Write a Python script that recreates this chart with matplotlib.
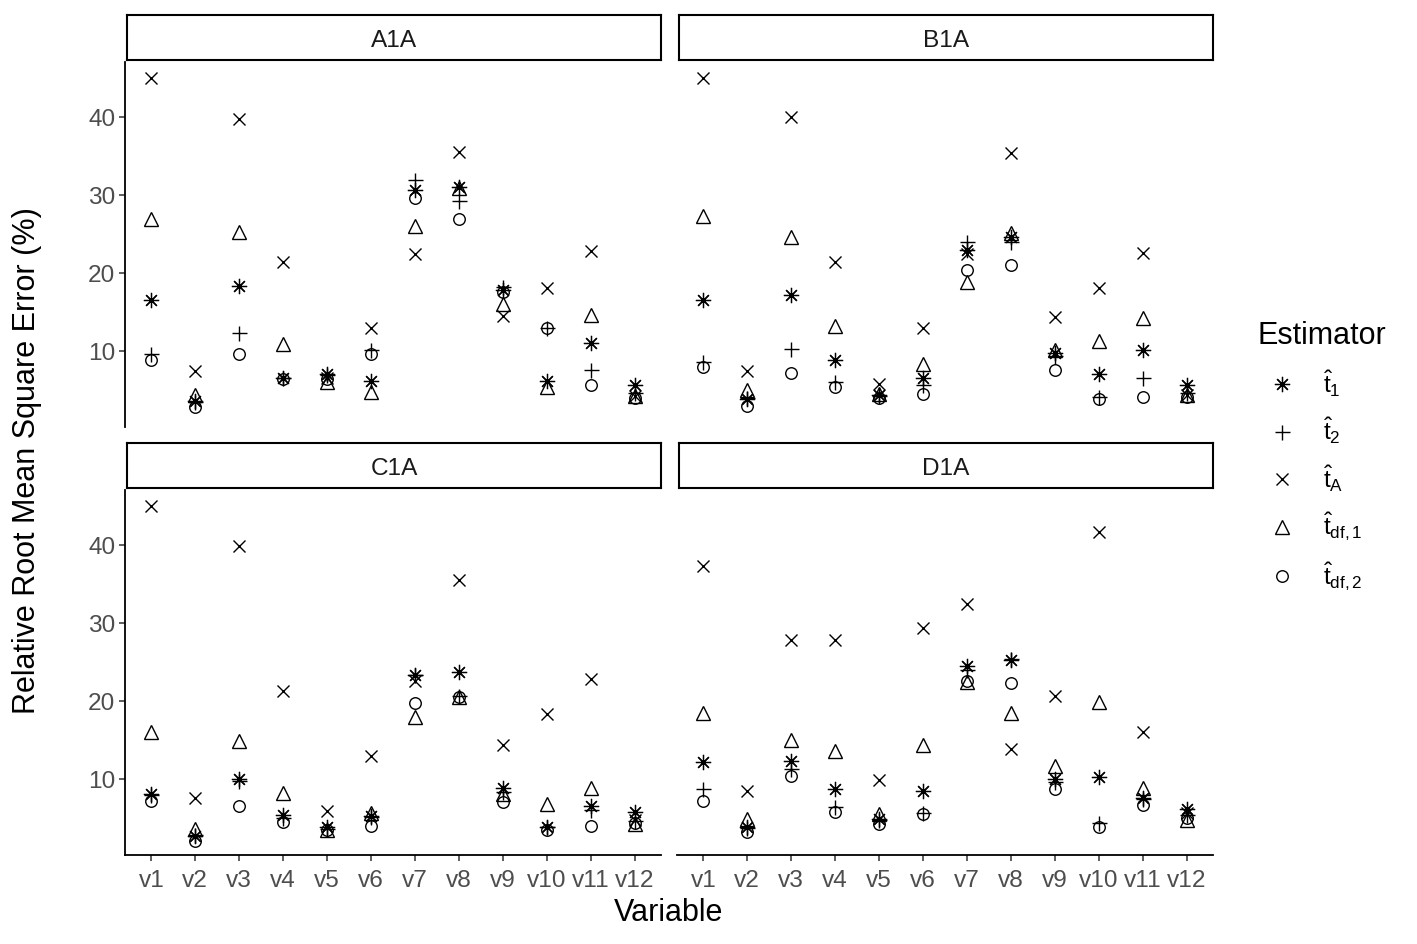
import numpy as np
import matplotlib
matplotlib.use("Agg")
import matplotlib.pyplot as plt
from matplotlib.lines import Line2D

plt.rcParams['font.family'] = ['Liberation Sans', 'DejaVu Sans']
plt.rcParams['mathtext.fontset'] = 'custom'
plt.rcParams['mathtext.rm'] = 'Liberation Sans'
plt.rcParams['mathtext.it'] = 'Liberation Sans'
plt.rcParams['mathtext.bf'] = 'Liberation Sans:bold'

# Data (RRMSE in %)
variables = ['v1', 'v2', 'v3', 'v4', 'v5', 'v6', 'v7', 'v8', 'v9', 'v10', 'v11', 'v12']
panels = ['A1A', 'B1A', 'C1A', 'D1A']
estimators = ['t1', 't2', 'tA', 'tdf1', 'tdf2']
est_labels = [r'$\hat{t}_{1}$', r'$\hat{t}_{2}$', r'$\hat{t}_{A}$',
              r'$\hat{t}_{df,1}$', r'$\hat{t}_{df,2}$']

a1a_t1 = [16.5, 3.6, 18.4, 6.5, 7.0, 6.1, 30.7, 31.1, 17.8, 6.1, 11.0, 5.6]
a1a_t2 = [9.6, 3.5, 12.3, 6.5, 6.9, 10.1, 31.9, 29.3, 18.2, 13.0, 7.6, 4.6]
a1a_tA = [45.0, 7.5, 39.8, 21.4, 6.6, 12.9, 22.4, 35.5, 14.5, 18.1, 22.8, 4.2]
a1a_tdf1 = [26.9, 4.3, 25.3, 10.9, 6.0, 4.8, 26.0, 30.9, 16.1, 5.4, 14.6, 4.2]
a1a_tdf2 = [8.9, 2.8, 9.6, 6.4, 6.4, 9.6, 29.7, 26.9, 17.6, 13.0, 5.6, 4.0]

b1a_t1 = [16.5, 3.9, 17.2, 8.8, 4.3, 6.6, 23.0, 24.7, 9.7, 7.1, 10.1, 5.6]
b1a_t2 = [8.6, 4.0, 10.3, 6.0, 4.2, 5.6, 24.0, 24.0, 9.3, 4.1, 6.5, 4.6]
b1a_tA = [45.0, 7.5, 40.0, 21.4, 5.8, 12.9, 22.5, 35.4, 14.4, 18.1, 22.6, 4.4]
b1a_tdf1 = [27.3, 5.0, 24.7, 13.2, 4.5, 8.4, 18.9, 25.1, 10.1, 11.3, 14.2, 4.4]
b1a_tdf2 = [8.0, 2.9, 7.2, 5.4, 4.0, 4.5, 20.4, 21.0, 7.6, 3.9, 4.1, 4.1]

c1a_t1 = [8.1, 2.7, 10.0, 5.4, 3.8, 5.3, 23.3, 23.7, 8.8, 3.8, 6.6, 5.8]
c1a_t2 = [7.9, 2.8, 9.7, 5.0, 3.6, 5.1, 23.4, 20.6, 8.4, 3.9, 6.0, 4.6]
c1a_tA = [45.0, 7.6, 39.9, 21.3, 5.9, 13.0, 22.6, 35.5, 14.4, 18.3, 22.8, 4.8]
c1a_tdf1 = [16.0, 3.6, 14.9, 8.2, 3.4, 5.7, 17.9, 20.5, 8.1, 6.8, 8.9, 4.2]
c1a_tdf2 = [7.2, 2.1, 6.6, 4.5, 3.4, 4.0, 19.7, 20.5, 7.0, 3.4, 4.0, 4.4]

d1a_t1 = [12.2, 3.8, 12.3, 8.7, 4.9, 8.5, 24.5, 25.3, 10.0, 10.3, 7.6, 6.1]
d1a_t2 = [8.7, 3.7, 11.3, 6.4, 4.8, 5.7, 24.0, 25.4, 9.6, 4.4, 7.4, 5.4]
d1a_tA = [37.4, 8.5, 27.9, 27.9, 9.9, 29.4, 32.5, 13.9, 20.7, 41.7, 16.0, 5.6]
d1a_tdf1 = [18.5, 4.9, 15.0, 13.6, 5.5, 14.4, 22.4, 18.5, 11.7, 19.9, 8.9, 4.7]
d1a_tdf2 = [7.2, 3.2, 10.4, 5.8, 4.2, 5.5, 22.6, 22.3, 8.7, 3.8, 6.7, 5.0]

panel_data = {
    'A1A': [a1a_t1, a1a_t2, a1a_tA, a1a_tdf1, a1a_tdf2],
    'B1A': [b1a_t1, b1a_t2, b1a_tA, b1a_tdf1, b1a_tdf2],
    'C1A': [c1a_t1, c1a_t2, c1a_tA, c1a_tdf1, c1a_tdf2],
    'D1A': [d1a_t1, d1a_t2, d1a_tA, d1a_tdf1, d1a_tdf2],
}

# ggplot-like shapes: 8, 3, 4, 2, 1
markers = [(8, 2, 0), '+', 'x', '^', 'o']
msizes = [11.0, 10.8, 9.2, 10.5, 8.3]
mwidths = [0.9, 1.0, 1.0, 1.0, 1.0]

W, H = 1417, 944
fig = plt.figure(figsize=(W / 100, H / 100), dpi=100)

col_x = [125, 677]
row_y = [62, 490]
pw, ph = 536, 365
grey = '#4D4D4D'

for i, name in enumerate(panels):
    r, c = divmod(i, 2)
    x0 = col_x[c] / W
    y0 = 1 - (row_y[r] + ph) / H
    ax = fig.add_axes([x0, y0, pw / W, ph / H])

    for k in range(len(estimators)):
        ax.plot(variables, panel_data[name][k], linestyle='none',
                marker=markers[k], markersize=msizes[k],
                markerfacecolor='none', markeredgecolor='black',
                markeredgewidth=mwidths[k], color='black')

    ax.set_xlim(-0.6, 11.6)
    ax.set_ylim(0.25, 47.1)
    ax.set_yticks([10, 20, 30, 40])
    for s in ['top', 'right']:
        ax.spines[s].set_visible(False)
    ax.spines['left'].set_visible(c == 0)
    ax.spines['bottom'].set_visible(r == 1)
    for s in ['left', 'bottom']:
        ax.spines[s].set_linewidth(1.3)
    ax.tick_params(axis='both', colors='#333333', width=1.1, length=4,
                   labelsize=17.6, labelcolor=grey, pad=3)
    ax.tick_params(axis='x', pad=7)
    if c == 1:
        ax.tick_params(axis='y', left=False, labelleft=False)
    if r == 0:
        ax.tick_params(axis='x', bottom=False, labelbottom=False)

    # facet strip
    sax = fig.add_axes([(col_x[c] + 2) / W, 1 - (row_y[r] - 2) / H, (pw - 2) / W, 45 / H])
    sax.set_xticks([])
    sax.set_yticks([])
    for s in sax.spines.values():
        s.set_linewidth(1.5)
        s.set_color('black')
    sax.text(0.5, 0.43, name, ha='center', va='center', fontsize=17.6,
             color='#1A1A1A', transform=sax.transAxes)

fig.text((125 + 1213) / 2 / W, 1 - 913 / H, 'Variable', ha='center', va='center', fontsize=22)
fig.text(27 / W, 1 - 461 / H, 'Relative Root Mean Square Error (%)', ha='center', va='center',
         rotation=90, fontsize=22)

handles = [Line2D([], [], linestyle='none', marker=markers[k], markersize=msizes[k],
                  markerfacecolor='none', markeredgecolor='black', markeredgewidth=mwidths[k])
           for k in range(len(estimators))]
fig.legend(handles, est_labels, loc='upper left', bbox_to_anchor=(1236 / W, 1 - 299 / H),
           frameon=False, title='Estimator', title_fontsize=22, fontsize=17.6,
           handlelength=2.0, handletextpad=0.65, labelspacing=0.7, alignment='left')

fig.savefig('out.png', dpi=100, facecolor='white')
